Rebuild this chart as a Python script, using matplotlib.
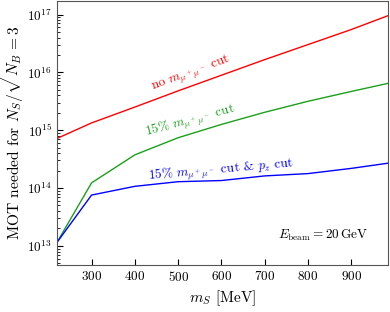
import matplotlib
matplotlib.use("Agg")
import matplotlib.pyplot as plt
import numpy as np

plt.rcParams['font.family'] = 'serif'
plt.rcParams['font.serif'] = ['cmr10']
plt.rcParams['mathtext.fontset'] = 'cm'
plt.rcParams['axes.formatter.use_mathtext'] = True
plt.rcParams['axes.unicode_minus'] = False

m_S = [220, 300, 400, 500, 600, 700, 800, 900, 985]
log_no_cut = [14.857, 15.126, 15.40, 15.68, 15.95, 16.22, 16.48, 16.74, 16.98]
log_mass_cut = [13.06, 14.09, 14.574, 14.87, 15.10, 15.31, 15.50, 15.67, 15.81]
log_mass_pz_cut = [13.06, 13.879, 14.03, 14.11, 14.13, 14.21, 14.25, 14.34, 14.43]

no_cut = [10**v for v in log_no_cut]
mass_cut = [10**v for v in log_mass_cut]
mass_pz_cut = [10**v for v in log_mass_pz_cut]

fig = plt.figure(figsize=(3.9, 3.12), dpi=100)
ax = fig.add_axes([0.146, 0.151, 0.849, 0.847])

ax.plot(m_S, no_cut, color='#ff0000', lw=1.0)
ax.plot(m_S, mass_cut, color='#1aa01a', lw=1.0)
ax.plot(m_S, mass_pz_cut, color='#0000ff', lw=1.0)

ax.set_yscale('log')
ax.set_xlim(220, 985)
ax.set_ylim(10**12.672, 10**17.24)
ax.set_xticks([300, 400, 500, 600, 700, 800, 900])
ax.tick_params(axis='both', which='both', direction='in', labelsize=9.5, top=False, right=False)
ax.tick_params(axis='both', which='major', length=4)
ax.tick_params(axis='both', which='minor', length=2)
for s in ax.spines.values():
    s.set_color('#555555')

ax.set_xlabel(r'$m_S$ [MeV]', fontsize=11, labelpad=3)
ax.set_ylabel(r'MOT needed for $N_S/\sqrt{N_B} = 3$', fontsize=11.2, labelpad=1)

ax.text(529, 10**15.98, r'no $m_{\mu^+\mu^-}$ cut', color='#ff0000', fontsize=9.5,
        rotation=20, ha='center', va='center')
ax.text(529, 10**15.155, r'$15\%\ m_{\mu^+\mu^-}$ cut', color='#1aa01a', fontsize=9.5,
        rotation=15, ha='center', va='center')
ax.text(599, 10**14.31, r'$15\%\ m_{\mu^+\mu^-}$ cut & $p_z$ cut', color='#0000ff', fontsize=9.5,
        rotation=5, ha='center', va='center')
ax.text(0.94, 0.11, r'$E_{\rm beam} = 20\,{\rm GeV}$', transform=ax.transAxes,
        fontsize=9.5, ha='right', va='center')

fig.savefig('out.png', dpi=100)
